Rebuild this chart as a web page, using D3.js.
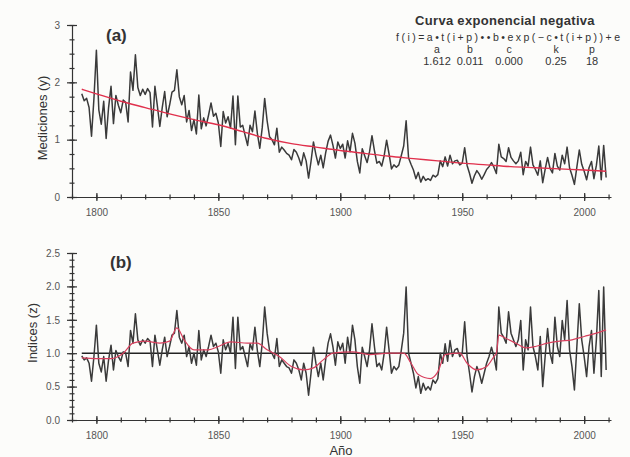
<!DOCTYPE html>
<html>
  <head>
    <meta charset="utf-8">
    <title>Curva exponencial negativa</title>
    <style>
body {
  margin: 0;
  background: #fcfcfa;
}
svg {
  display: block;
  font-family: "Liberation Sans", Arial, sans-serif;
}
.axis text {
  fill: #555;
  font-size: 10px;
}
.axis path, .axis line {
  stroke: #333;
  stroke-width: 1.2;
}
    </style>
  </head>
  <body>
    <div id="chart"></div>
    <script src="https://cdn.jsdelivr.net/npm/d3@7"></script>
    <script>

    var firstYear = 1794;

    // (a) mediciones, one value per year from 1794
    var mediciones = [
      1.80, 1.68, 1.72, 1.56, 1.06, 1.72,
      2.56, 1.52, 1.27, 1.67, 1.02, 1.56, 1.93, 1.28, 1.77, 1.60,
      1.47, 1.69, 1.65, 1.31, 2.18, 1.86, 2.48, 1.91, 1.77, 1.88,
      1.79, 1.89, 1.82, 1.22, 1.93, 1.59, 1.23, 1.56, 1.84, 1.40,
      1.60, 1.83, 1.86, 2.22, 1.75, 1.61, 1.77, 1.31, 1.51, 1.16,
      1.35, 1.10, 1.78, 1.19, 1.38, 1.24, 1.43, 1.64, 1.41, 1.46,
      1.29, 0.88, 1.49, 1.29, 1.40, 1.20, 1.76, 0.91, 1.76, 1.22,
      1.25, 1.07, 0.90, 1.25, 1.14, 1.50, 1.11, 0.85, 1.21, 1.72,
      1.33, 1.05, 1.00, 0.91, 1.20, 0.78, 0.87, 0.82, 0.76, 0.73,
      0.65, 0.83, 0.78, 0.68, 0.55, 0.77, 0.63, 0.33, 0.62, 0.96,
      0.74, 0.56, 0.73, 0.51, 0.77, 0.97, 1.08, 0.90, 0.68, 0.96,
      0.85, 0.92, 0.68, 0.98, 0.79, 1.11, 0.94, 0.62, 0.42, 0.84,
      0.72, 0.60, 0.79, 1.07, 0.81, 0.59, 0.62, 0.54, 0.72, 0.99,
      0.75, 0.49, 0.56, 0.52, 0.56, 0.72, 0.89, 1.33, 0.68, 0.57,
      0.47, 0.32, 0.43, 0.26, 0.36, 0.29, 0.32, 0.29, 0.38, 0.35,
      0.39, 0.63, 0.53, 0.70, 0.54, 0.73, 0.58, 0.63, 0.64, 0.56,
      0.59, 0.86, 0.55, 0.41, 0.24, 0.37, 0.46, 0.40, 0.31, 0.39,
      0.48, 0.53, 0.60, 0.52, 0.41, 0.92, 0.70, 0.67, 0.62, 0.86,
      0.69, 0.63, 0.58, 0.63, 0.78, 0.39, 0.62, 0.54, 0.87, 0.56,
      0.48, 0.38, 0.63, 0.25, 0.48, 0.69, 0.50, 0.42, 0.76, 0.54,
      0.47, 0.73, 0.58, 0.87, 0.51, 0.38, 0.22, 0.52, 0.82, 0.57,
      0.45, 0.30, 0.51, 0.62, 0.32, 0.55, 0.89, 0.30, 0.90, 0.34
    ];

    // (b) indices, one value per year from 1794
    var indices = [
      0.96, 0.90, 0.93, 0.85, 0.58, 0.95,
      1.42, 0.85, 0.72, 0.95, 0.58, 0.90, 1.12, 0.75, 1.04, 0.95,
      0.88, 1.02, 1.00, 0.80, 1.34, 1.15, 1.59, 1.20, 1.12, 1.20,
      1.15, 1.22, 1.18, 0.80, 1.27, 1.05, 0.82, 1.05, 1.24, 0.95,
      1.10, 1.27, 1.30, 1.64, 1.24, 1.15, 1.27, 0.95, 1.10, 0.85,
      1.00, 0.82, 1.34, 0.90, 1.05, 0.95, 1.10, 1.27, 1.10, 1.15,
      1.02, 0.70, 1.20, 1.05, 1.15, 1.00, 1.54, 0.77, 1.54, 1.05,
      1.10, 0.95, 0.80, 1.14, 1.05, 1.39, 1.04, 0.80, 1.15, 1.69,
      1.30, 1.04, 1.00, 0.92, 1.22, 0.80, 0.90, 0.85, 0.80, 0.78,
      0.70, 0.90, 0.85, 0.75, 0.60, 0.85, 0.70, 0.37, 0.70, 1.09,
      0.85, 0.65, 0.85, 0.60, 0.90, 1.15, 1.29, 1.09, 0.82, 1.17,
      1.05, 1.15, 0.85, 1.24, 1.00, 1.42, 1.20, 0.80, 0.55, 1.09,
      0.95, 0.80, 1.05, 1.44, 1.10, 0.80, 0.85, 0.75, 1.00, 1.39,
      1.05, 0.70, 0.80, 0.75, 0.80, 1.04, 1.30, 1.99, 1.00, 0.85,
      0.70, 0.48, 0.65, 0.40, 0.55, 0.45, 0.50, 0.45, 0.60, 0.55,
      0.62, 1.00, 0.85, 1.14, 0.88, 1.19, 0.95, 1.05, 1.07, 0.95,
      1.00, 1.47, 0.95, 0.70, 0.42, 0.65, 0.80, 0.70, 0.55, 0.70,
      0.85, 0.95, 1.09, 0.95, 0.75, 1.69, 1.30, 1.24, 1.15, 1.62,
      1.30, 1.20, 1.10, 1.20, 1.49, 0.75, 1.20, 1.05, 1.69, 1.10,
      0.95, 0.75, 1.25, 0.50, 0.95, 1.37, 1.00, 0.85, 1.54, 1.10,
      0.95, 1.49, 1.20, 1.79, 1.05, 0.80, 0.45, 1.10, 1.74, 1.20,
      0.95, 0.65, 1.10, 1.34, 0.70, 1.20, 1.94, 0.65, 1.99, 0.75
    ];

    // red fitted curve in (a)
    var curvaYears = [1794, 1800, 1810, 1820, 1830, 1840, 1850, 1860, 1870, 1880, 1890,
                      1900, 1910, 1920, 1930, 1940, 1950, 1960, 1970, 1980, 1990, 2000, 2009];
    var curvaValues = [1.88, 1.80, 1.67, 1.56, 1.45, 1.35, 1.26, 1.14, 1.02, 0.93, 0.87,
                       0.81, 0.76, 0.71, 0.67, 0.63, 0.59, 0.56, 0.53, 0.51, 0.49, 0.47, 0.45];

    // red smoothed line in (b)
    var suaveYears = [1794, 1800, 1806, 1811, 1815, 1820, 1826, 1830, 1833, 1836, 1840, 1846,
                      1850, 1855, 1862, 1866, 1870, 1875, 1880, 1885, 1889, 1893, 1897, 1905,
                      1912, 1920, 1926, 1929, 1932, 1937, 1940, 1943, 1949, 1952, 1956, 1960,
                      1963, 1964, 1965, 1968, 1972, 1976, 1980, 1985, 1990, 1995, 2000, 2005, 2009];
    var suaveValues = [0.93, 0.92, 0.92, 1.00, 1.15, 1.18, 1.15, 1.18, 1.38, 1.20, 1.05, 1.05,
                       1.10, 1.17, 1.15, 1.15, 1.05, 0.95, 0.80, 0.75, 0.78, 0.90, 1.00, 1.02,
                       0.98, 1.00, 1.00, 0.85, 0.68, 0.62, 0.72, 0.98, 1.00, 0.85, 0.75, 0.80,
                       0.95, 1.00, 1.27, 1.22, 1.15, 1.08, 1.10, 1.15, 1.18, 1.20, 1.25, 1.30, 1.35];

    var yearTicks = [1800, 1850, 1900, 1950, 2000];
    var yearMinor = d3.range(1790, 2011, 10);
    var ticksA = [0, 1, 2, 3];
    var minorA = d3.range(0, 3.01, 0.25);
    var ticksB = [0, 0.5, 1, 1.5, 2, 2.5];
    var minorB = d3.range(0, 2.51, 0.1);

    var paramNames = ['a', 'b', 'c', 'k', 'p'];
    var paramValues = ['1.612', '0.011', '0.000', '0.25', '18'];

    var width = 630, height = 457;

    var svg = d3.select('#chart').append('svg')
        .attr('width', width)
        .attr('height', height);

    var x = d3.scaleLinear().domain([1790, 2011]).range([72, 611]);
    var yA = d3.scaleLinear().domain([0, 3]).range([197, 25]);
    var yB = d3.scaleLinear().domain([0, 2.5]).range([420, 253]);

    var seriesA = mediciones.map(function(v, i) { return [firstYear + i, v]; });
    var seriesB = indices.map(function(v, i) { return [firstYear + i, v]; });

    function drawAxes(y, major, minor, fmt) {
      var xMin = svg.append('g').attr('class', 'axis')
          .attr('transform', 'translate(0,' + y.range()[0] + ')')
          .call(d3.axisBottom(x).tickValues(yearMinor).tickFormat('').tickSizeOuter(0));
      xMin.selectAll('.tick line').attr('y1', -2.5).attr('y2', 2.5);

      var xMaj = svg.append('g').attr('class', 'axis')
          .attr('transform', 'translate(0,' + y.range()[0] + ')')
          .call(d3.axisBottom(x).tickValues(yearTicks).tickFormat(d3.format('d')).tickSizeOuter(0).tickPadding(6));
      xMaj.select('.domain').remove();
      xMaj.selectAll('.tick line').attr('y1', -4).attr('y2', 4);

      var yMin = svg.append('g').attr('class', 'axis')
          .attr('transform', 'translate(72,0)')
          .call(d3.axisLeft(y).tickValues(minor).tickFormat('').tickSizeOuter(0));
      yMin.selectAll('.tick line').attr('x1', -2.5).attr('x2', 2.5);

      var yMaj = svg.append('g').attr('class', 'axis')
          .attr('transform', 'translate(72,0)')
          .call(d3.axisLeft(y).tickValues(major).tickFormat(fmt).tickSizeOuter(0).tickPadding(6));
      yMaj.select('.domain').remove();
      yMaj.selectAll('.tick line').attr('x1', -5).attr('x2', 5);
    }

    drawAxes(yA, ticksA, minorA, d3.format('d'));
    drawAxes(yB, ticksB, minorB, d3.format('.1f'));

    // reference line at 1.0 in (b)
    svg.append('line')
        .attr('x1', x(firstYear)).attr('x2', x(firstYear + indices.length - 1))
        .attr('y1', yB(1)).attr('y2', yB(1))
        .style('stroke', '#222')
        .style('stroke-width', 1.5);

    var lineA = d3.line().x(function(d) { return x(d[0]); }).y(function(d) { return yA(d[1]); });
    var lineB = d3.line().x(function(d) { return x(d[0]); }).y(function(d) { return yB(d[1]); });

    svg.append('path')
        .datum(seriesA)
        .attr('d', lineA)
        .style('fill', 'none')
        .style('stroke', '#3a3a3a')
        .style('stroke-width', 1.5)
        .style('stroke-linejoin', 'round');

    svg.append('path')
        .datum(d3.zip(curvaYears, curvaValues))
        .attr('d', lineA.curve(d3.curveMonotoneX))
        .style('fill', 'none')
        .style('stroke', '#e0304c')
        .style('stroke-width', 1.4);

    svg.append('path')
        .datum(seriesB)
        .attr('d', lineB)
        .style('fill', 'none')
        .style('stroke', '#3a3a3a')
        .style('stroke-width', 1.5)
        .style('stroke-linejoin', 'round');

    svg.append('path')
        .datum(d3.zip(suaveYears, suaveValues))
        .attr('d', lineB.curve(d3.curveMonotoneX))
        .style('fill', 'none')
        .style('stroke', '#d8405e')
        .style('stroke-width', 1.2);

    // panel letters
    svg.append('text').attr('x', 106).attr('y', 41)
        .style('font-size', '17px').style('font-weight', 'bold').style('fill', '#333')
        .text('(a)');
    svg.append('text').attr('x', 110).attr('y', 268)
        .style('font-size', '17px').style('font-weight', 'bold').style('fill', '#333')
        .text('(b)');

    // axis titles
    svg.append('text')
        .attr('transform', 'translate(47,118) rotate(-90)')
        .attr('text-anchor', 'middle')
        .style('font-size', '13px').style('fill', '#333')
        .text('Mediciones (y)');
    svg.append('text')
        .attr('transform', 'translate(37,333) rotate(-90)')
        .attr('text-anchor', 'middle')
        .style('font-size', '13px').style('fill', '#333')
        .text('Indices (z)');
    svg.append('text')
        .attr('x', 341).attr('y', 455)
        .attr('text-anchor', 'middle')
        .style('font-size', '13px').style('fill', '#333')
        .text('Año');

    // fit description
    var legend = svg.append('g').style('fill', '#333');
    legend.append('text').attr('x', 505).attr('y', 25)
        .attr('text-anchor', 'middle')
        .style('font-size', '13px').style('font-weight', 'bold')
        .style('letter-spacing', '0.3px')
        .text('Curva exponencial negativa');
    legend.append('text').attr('x', 396).attr('y', 41)
        .attr('textLength', 224).attr('lengthAdjust', 'spacing')
        .style('font-size', '10.5px')
        .text('f(i)=a•t(i+p)••b•exp(−c•t(i+p))+e');

    var paramX = [437, 470, 509, 556, 592];
    paramNames.forEach(function(n, i) {
      legend.append('text').attr('x', paramX[i]).attr('y', 53)
          .attr('text-anchor', 'middle').style('font-size', '10.5px').text(n);
      legend.append('text').attr('x', paramX[i]).attr('y', 65)
          .attr('text-anchor', 'middle').style('font-size', '11px').text(paramValues[i]);
    });

    </script>
  </body>
</html>
